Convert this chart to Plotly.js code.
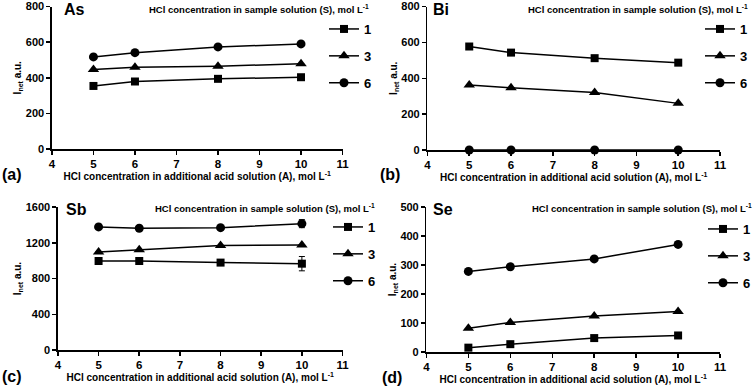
<!DOCTYPE html>
<html><head><meta charset="utf-8">
<script src="https://cdn.plot.ly/plotly-3.0.1.min.js"></script>
<style>html,body{margin:0;padding:0;background:#fff}#chart{width:756px;height:388px}</style>
</head><body><div id="chart"></div>
<script>
const xConc = [5, 6, 8, 10];
const seriesNames = ['1', '3', '6'];
const asS1 = [354, 379, 394, 403];
const asS3 = [446, 459, 465, 478];
const asS6 = [517, 541, 573, 590];
const biS1 = [577, 543, 512, 487];
const biS3 = [363, 347, 320, 260];
const biS6 = [0, 0, 0, 0];
const sbS1 = [996, 996, 978, 966];
const sbS3 = [1097, 1123, 1170, 1175];
const sbS6 = [1377, 1362, 1369, 1414];
const sbErr1 = [0, 0, 0, 80];
const sbErr3 = [0, 0, 0, 0];
const sbErr6 = [0, 0, 0, 45];
const seS1 = [15, 27, 48, 57];
const seS3 = [82, 102, 124, 140];
const seS6 = [278, 294, 321, 371];
const yTicksAB = [0, 200, 400, 600, 800];
const yTicksC = [0, 400, 800, 1200, 1600];
const yTicksD = [0, 100, 200, 300, 400, 500];
const xTicks = [4, 5, 6, 7, 8, 9, 10, 11];
const panelElements = ['As', 'Bi', 'Sb', 'Se'];
const panelLetters = ['(a)', '(b)', '(c)', '(d)'];

const W = 756, H = 388;
const px = v => v / W, py = v => 1 - v / H;
const FONT = 'Liberation Sans, Arial, sans-serif';
const symbols = ['square', 'triangle-up', 'circle'];
const sizes = [8, 10, 9];

const panels = [
  {data: [asS1, asS3, asS6], err: null, ax: '', yt: yTicksAB,
   dom: {x: [px(52), px(343)], y: [py(149), py(6.5)]}},
  {data: [biS1, biS3, biS6], err: null, ax: '2', yt: yTicksAB,
   dom: {x: [px(428), px(721)], y: [py(150), py(6.5)]}},
  {data: [sbS1, sbS3, sbS6], err: [sbErr1, sbErr3, sbErr6], ax: '3', yt: yTicksC,
   dom: {x: [px(58), px(343)], y: [py(350), py(207)]}},
  {data: [seS1, seS3, seS6], err: null, ax: '4', yt: yTicksD,
   dom: {x: [px(427), px(721)], y: [py(352), py(207)]}}
];
const legendPos = [[324, 14], [700, 14], [328, 212], [704, 214]];

const traces = [];
const layout = {
  width: W, height: H, margin: {l: 0, r: 0, t: 0, b: 0},
  paper_bgcolor: '#fff', plot_bgcolor: '#fff',
  font: {family: FONT, color: '#000', weight: 'bold'},
  annotations: [], showlegend: true
};

panels.forEach((p, i) => {
  const legName = i === 0 ? 'legend' : 'legend' + (i + 1);
  p.data.forEach((ys, k) => {
    const t = {
      x: xConc, y: ys, type: 'scatter', mode: 'lines+markers', name: seriesNames[k],
      xaxis: 'x' + p.ax, yaxis: 'y' + p.ax, legend: legName, legendgroup: 'g' + i + k,
      line: {color: '#000', width: 1.5},
      marker: {symbol: symbols[k], size: sizes[k], color: '#000'},
      cliponaxis: false
    };
    if (p.err) t.error_y = {type: 'data', array: p.err[k], visible: true, color: '#000', thickness: 1, width: 3};
    traces.push(t);
  });
  const xa = 'xaxis' + p.ax, ya = 'yaxis' + p.ax;
  const ymax = p.yt[p.yt.length - 1];
  layout[xa] = {
    domain: p.dom.x, range: [4, 11.0001], tickmode: 'array', tickvals: xTicks, anchor: 'y' + p.ax,
    showline: true, linecolor: '#000', linewidth: 1.5, ticks: 'outside', ticklen: 4, tickcolor: '#000', tickwidth: 1.5,
    showgrid: false, zeroline: false, ticklabeloverflow: 'allow', tickfont: {size: 11.5, family: FONT, weight: 'bold'},
    title: {text: 'HCl concentration in additional acid solution (A), mol L<sup>-1</sup>', font: {size: 10, family: FONT, weight: 'bold'}, standoff: 2}
  };
  layout[ya] = {
    domain: p.dom.y, range: [0, ymax * 1.0001], tickmode: 'array', tickvals: p.yt, anchor: 'x' + p.ax,
    showline: true, linecolor: '#000', linewidth: 1.5, ticks: 'outside', ticklen: 4, tickcolor: '#000', tickwidth: 1.5,
    showgrid: false, zeroline: false, ticklabeloverflow: 'allow', tickfont: {size: 11, family: FONT, weight: 'bold'},
    title: {text: 'I<sub>net</sub> a.u.', font: {size: 10, family: FONT, weight: 'bold'}, standoff: 2}
  };
  layout[legName] = {
    x: px(legendPos[i][0]), y: py(legendPos[i][1]), xanchor: 'left', yanchor: 'top',
    bgcolor: 'rgba(0,0,0,0)', borderwidth: 0, tracegroupgap: 7, traceorder: 'grouped',
    font: {size: 13, family: FONT, weight: 'bold', color: '#000'}, itemwidth: 30
  };
});

const elemPos = [[62, 9], [432, 9], [64, 209], [432, 209]];
const headPos = [[371, 9], [751, 9], [377, 208], [755, 208]];
const letterPos = [[0, 175], [378, 175], [0, 376], [381, 377]];
panels.forEach((p, i) => {
  layout.annotations.push({text: panelElements[i], xref: 'paper', yref: 'paper', x: px(elemPos[i][0]), y: py(elemPos[i][1]),
    xanchor: 'left', yanchor: 'middle', showarrow: false, font: {size: 16, family: FONT, weight: 'bold'}});
  layout.annotations.push({text: 'HCl concentration in sample solution (S), mol L<sup>-1</sup>', xref: 'paper', yref: 'paper',
    x: px(headPos[i][0]), y: py(headPos[i][1]), xanchor: 'right', yanchor: 'middle', showarrow: false,
    font: {size: 9.5, family: FONT, weight: 'bold'}});
  layout.annotations.push({text: panelLetters[i], xref: 'paper', yref: 'paper', x: px(letterPos[i][0]), y: py(letterPos[i][1]),
    xanchor: 'left', yanchor: 'middle', showarrow: false, font: {size: 16, family: FONT, weight: 'bold'}});
});

Plotly.newPlot('chart', traces, layout, {displayModeBar: false, staticPlot: true});
</script></body></html>
